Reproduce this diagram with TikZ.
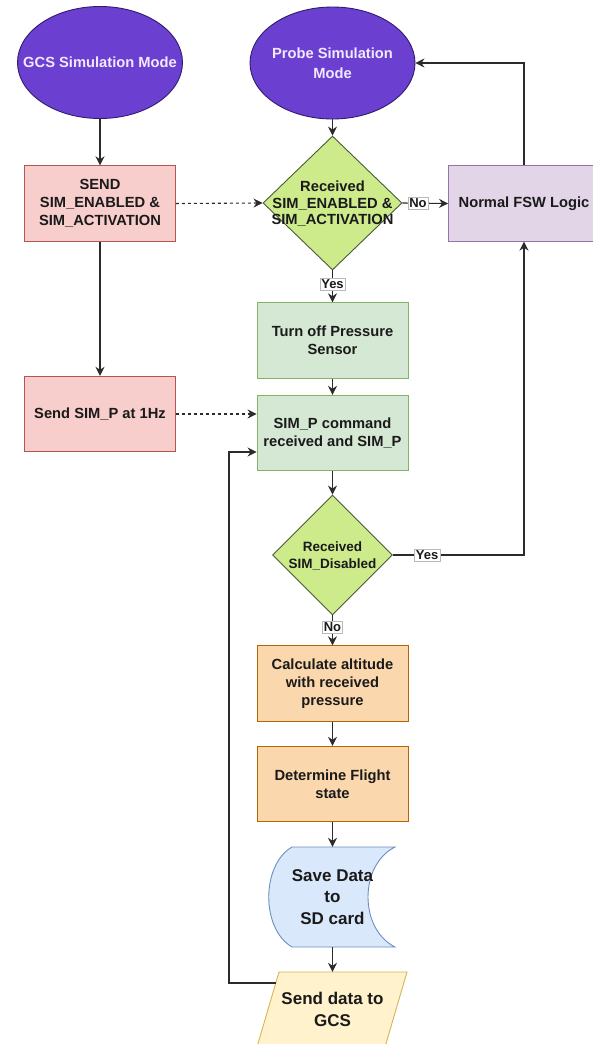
\documentclass[tikz,border=0pt]{standalone}
\usepackage{fontspec}
\setmainfont{Liberation Sans}
\usetikzlibrary{shapes.geometric,arrows.meta,calc}
\definecolor{txtc}{HTML}{1A1A1A}
\definecolor{linec}{HTML}{2B2B2B}
\definecolor{pinkf}{HTML}{F8CECC}\definecolor{pinkd}{HTML}{B85450}
\definecolor{greenf}{HTML}{D5E8D4}\definecolor{greend}{HTML}{82B366}
\definecolor{diaf}{HTML}{CDEB8B}\definecolor{diad}{HTML}{4A5A35}
\definecolor{purf}{HTML}{E1D5E7}\definecolor{purd}{HTML}{9673A6}
\definecolor{oraf}{HTML}{FAD7AC}\definecolor{orad}{HTML}{B46504}
\definecolor{bluef}{HTML}{DAE8FC}\definecolor{blued}{HTML}{6C8EBF}
\definecolor{yelf}{HTML}{FFF2CC}\definecolor{yeld}{HTML}{D6B656}
\definecolor{ovalf}{HTML}{6B40D0}\definecolor{ovald}{HTML}{2E1C6E}
\definecolor{ovalt}{HTML}{F3E8FF}
\begin{document}
\begin{tikzpicture}[x=1pt,y=-1pt,
  txt/.style={font=\bfseries\fontsize{14.7}{18}\selectfont, text=txtc, align=center},
  bigtxt/.style={font=\bfseries\fontsize{17}{21.5}\selectfont, text=txtc, align=center},
  box/.style={txt, draw, line width=0.9pt, minimum width=151pt, minimum height=75.5pt, inner sep=0pt},
  pinkbox/.style={box, fill=pinkf, draw=pinkd},
  greenbox/.style={box, fill=greenf, draw=greend},
  purbox/.style={box, fill=purf, draw=purd},
  orabox/.style={box, fill=oraf, draw=orad},
  oval/.style={ellipse, draw=ovald, fill=ovalf, line width=0.9pt, minimum width=165pt, minimum height=112pt, inner sep=0pt},
  ovaltxt/.style={font=\bfseries\fontsize{14.7}{20}\selectfont, text=ovalt, align=center},
  decision/.style={diamond, draw=diad, fill=diaf, line width=0.9pt, inner sep=0pt},
  conn/.style={draw=linec, line width=1.1pt, -{Stealth[length=9pt,width=9pt,inset=3pt]}},
  lbl/.style={fill=white, draw=gray!55, line width=0.4pt, inner sep=1.5pt, font=\bfseries\fontsize{13}{13}\selectfont, text=txtc}
]
\useasboundingbox[fill=white] (0,0) rectangle (592,1044);

% ovals
\node[oval] (gcs) at (100,62.5) {};
\node[ovaltxt] (gcst) at (100,62.5) {GCS Simulation Mode};
\node[oval] (probe) at (332.5,63) {};
\node[ovaltxt] (probet) at (332.5,63) {Probe Simulation\\Mode};

% left column
\node[pinkbox] (send1) at (100,203.5) {SEND\\SIM\_ENABLED \&\\SIM\_ACTIVATION};
\node[pinkbox] (simp1) at (100,414) {Send SIM\_P at 1Hz};

% decision 1
\node[decision, minimum width=139pt, minimum height=134pt] (d1) at (332.5,203) {};
\node[txt, font=\bfseries\fontsize{14.7}{16.5}\selectfont] (d1t) at (332.5,204) {Received\\SIM\_ENABLED \&\\SIM\_ACTIVATION};

\node[purbox] (fsw) at (524,203.5) {Normal FSW Logic};

\node[greenbox] (off) at (332.5,340.5) {Turn off Pressure\\Sensor};
\node[greenbox] (simp) at (332.5,433) {SIM\_P command\\received and SIM\_P};

% decision 2
\node[decision, minimum width=120pt, minimum height=120pt] (d2) at (332.5,555) {};
\node[txt, font=\bfseries\fontsize{13.5}{17}\selectfont] (d2t) at (332.5,555.5) {Received\\SIM\_Disabled};

\node[orabox] (calc) at (332.5,683.5) {Calculate altitude\\with received\\pressure};
\node[orabox] (det) at (332.5,784) {Determine Flight\\state};

% stored data shape
\draw[fill=bluef, draw=blued, line width=0.9pt]
  (292,847) -- (395,847) .. controls (359,865) and (359,929) .. (395,947)
  -- (292,947) .. controls (261,929) and (261,865) .. (292,847) -- cycle;
\node[bigtxt, minimum height=100pt, inner sep=0pt] (save) at (332.5,897) {Save Data\\to\\SD card};

% parallelogram
\draw[fill=yelf, draw=yeld, line width=0.9pt]
  (279,972) -- (407,972) -- (385,1047) -- (257,1047) -- cycle;
\node[bigtxt, minimum height=75pt, inner sep=0pt] (out) at (332.5,1009.5) {Send data to\\GCS};
\coordinate (outleft) at (275.8,983);

% connectors
\draw[conn] (gcs.south) -- (send1.north);
\draw[conn] (send1.south) -- (simp1.north);
\draw[conn, dashed, dash pattern=on 3pt off 3pt] (send1.east) -- (d1.west);
\draw[conn] (probe.south) -- (d1.north);
\draw[conn] (d1.east) -- (fsw.west) node[lbl, pos=0.34] {No};
\draw[conn] (fsw.north) |- (probe.east);
\draw[conn] (d1.south) -- (off.north) node[lbl, pos=0.42] {Yes};
\draw[conn] (off.south) -- (simp.north);
\draw[conn, dashed, dash pattern=on 3pt off 3pt] (simp1.east) -- (simp1.east -| simp.west);
\draw[conn] (simp.south) -- (d2.north);
\draw[conn] (d2.east) -| (fsw.south) node[lbl, pos=0.13] {Yes};
\draw[conn] (d2.south) -- (calc.north) node[lbl, pos=0.39] {No};
\draw[conn] (calc.south) -- (det.north);
\draw[conn] (det.south) -- (save.north);
\draw[conn] (save.south) -- (out.north);
\draw[conn] (outleft) -- (229,983) |- ($(simp.west)+(0,19)$);
\end{tikzpicture}
\end{document}
